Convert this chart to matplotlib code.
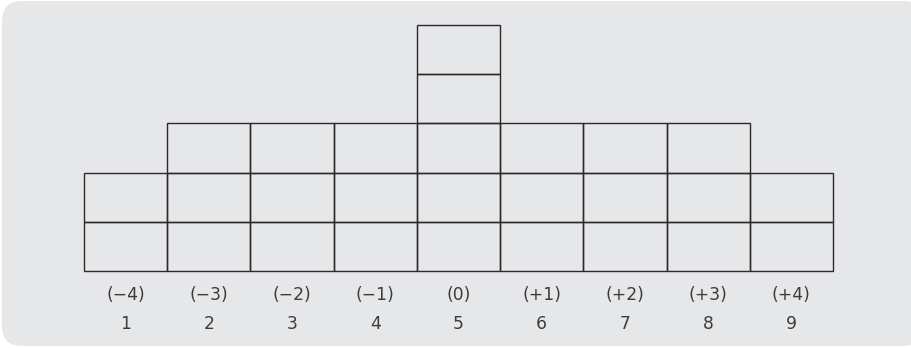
import matplotlib
matplotlib.use("Agg")
import matplotlib.pyplot as plt
from matplotlib.patches import FancyBboxPatch

plt.rcParams['font.family'] = ['DejaVu Sans', 'Noto Sans CJK KR']

# column data
positions = [1, 2, 3, 4, 5, 6, 7, 8, 9]
heights = [2, 3, 3, 3, 5, 3, 3, 3, 2]
offset_labels = ['(−4)', '(−3)', '(−2)', '(−1)', '(0)', '(+1)', '(+2)', '(+3)', '(+4)']
number_labels = ['1', '2', '3', '4', '5', '6', '7', '8', '9']

W, H = 911, 348
fig = plt.figure(figsize=(W / 100, H / 100), dpi=100)
fig.patch.set_facecolor('white')

# rounded gray background panel (behind the axes)
bg = FancyBboxPatch((2 / W, 2 / H), (W + 10) / W, (H - 3) / H,
                    boxstyle="round,pad=0,rounding_size=0.022",
                    transform=fig.transFigure, facecolor='#e6e7e9',
                    edgecolor='none', mutation_aspect=W / H, zorder=-10)
fig.patches.append(bg)

# axes placed over the grid of boxes
left, right, top, bottom = 84, 833, 25, 271
ax = fig.add_axes([left / W, (H - bottom) / H, (right - left) / W, (bottom - top) / H])
ax.set_zorder(5)
ax.set_xlim(0.5, 9.5)
ax.set_ylim(0, 5)
ax.axis('off')

for x, h in zip(positions, heights):
    for k in range(h):
        ax.bar(x, 1, width=1, bottom=k, fill=False, edgecolor='#2a2a2a',
               linewidth=1.0, clip_on=False)

for x, lab, num in zip(positions, offset_labels, number_labels):
    ax.text(x, -0.58, lab, ha='center', va='baseline', fontsize=12.3,
            color='#3c3c3c', clip_on=False)
    ax.text(x, -1.18, num, ha='center', va='baseline', fontsize=12.3,
            color='#3c3c3c', clip_on=False)

fig.savefig('out.png', dpi=100)
